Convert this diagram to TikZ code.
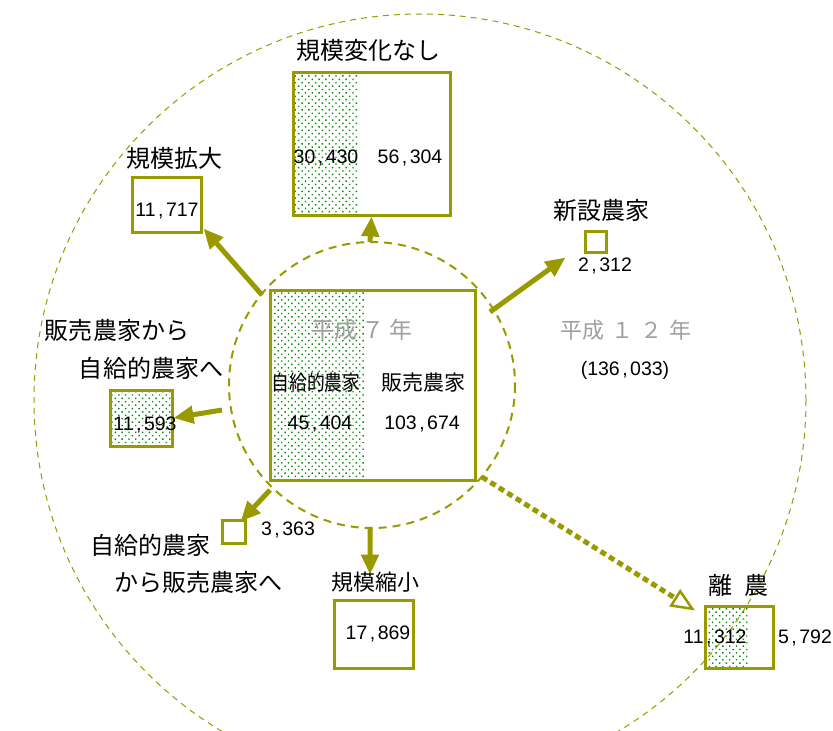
\documentclass[tikz,border=0pt]{standalone}
\usepackage{fontspec}
\setmainfont{Noto Sans CJK JP}
\newfontfamily\numfont{Liberation Sans}
\usetikzlibrary{arrows.meta,patterns.meta}
\definecolor{olive}{RGB}{153,153,0}
\definecolor{dotgreen}{RGB}{10,140,10}
\newcommand\nm[2]{{\numfont #1\kern2.5bp,\kern2.5bp #2}}
\tikzset{
  lab/.style={font=\fontsize{24bp}{26bp}\selectfont, inner sep=0pt},
  clab/.style={font=\fontsize{21bp}{23bp}\selectfont, inner sep=0pt},
  num/.style={font=\fontsize{19.5bp}{21bp}\selectfont, inner sep=0pt},
  fbox/.style={draw=olive, line width=3bp, inner sep=0pt},
  dotfill/.style={pattern={Dots[distance=4.8bp,angle=45,radius=1bp]}, pattern color=dotgreen},
  arr/.style={draw=olive, line width=5bp, -{Triangle[length=20bp,width=17bp]}},
  darr/.style={draw=olive, line width=5bp, dash pattern=on 6bp off 4bp, -{Triangle[open,length=24bp,width=20bp,fill=white,line width=2.5bp]}}
}
\begin{document}
\begin{tikzpicture}[x=1bp,y=-1bp]
\useasboundingbox (0,0) rectangle (833,731);
% circles
\draw[olive, line width=1bp, dash pattern=on 6bp off 5bp] (420,400) circle[radius=386];
\draw[olive, line width=2bp, dash pattern=on 8bp off 6bp] (372,385) circle[radius=143];
% central box
\fill[dotfill] (270,290) rectangle (365,480);
\node[fbox, minimum width=205bp, minimum height=190bp] (center) at (372.5,385) {};
\node[clab, color=gray!75, font=\fontsize{23bp}{25bp}\selectfont] (h7) at (362,330) {平成\hspace{5bp}７\hspace{5bp}年};
\node[clab] (jikyu) at (316,383) {\scalebox{0.85}[1]{自給的農家}};
\node[clab] (hanbai) at (423,383) {販売農家};
\node[num] (n1) at (320,424) {\nm{45}{404}};
\node[num] (n2) at (422,424) {\nm{103}{674}};
% top box
\fill[dotfill] (293,73) rectangle (358,215);
\node[fbox, minimum width=157bp, minimum height=142bp] (nochange) at (371.5,144) {};
\node[lab] (tnochange) at (368,50) {規模変化なし};
\node[num] (n3) at (326,158) {\nm{30}{430}};
\node[num] (n4) at (410,158) {\nm{56}{304}};
% expand
\node[fbox, minimum width=69bp, minimum height=55bp] (expand) at (166.5,204.5) {};
\node[lab] (texpand) at (174,158) {規模拡大};
\node[num] (n5) at (167,211) {\nm{11}{717}};
% new
\node[fbox, minimum width=21bp, minimum height=21bp] (new) at (595.5,241.5) {};
\node[lab] (tnew) at (601,210) {新設農家};
\node[num] (n6) at (605,266) {\nm{2}{312}};
% to self-sufficient
\fill[dotfill] (110,390) rectangle (172,446);
\node[fbox, minimum width=62bp, minimum height=56bp] (toself) at (141,418) {};
\node[lab] (ttoself1) at (117,330) {販売農家から};
\node[lab] (ttoself2) at (151,368) {自給的農家へ};
\node[num] (n7) at (145,425) {\nm{11}{593}};
% to sales
\node[fbox, minimum width=23bp, minimum height=23bp] (tosale) at (233.5,531.5) {};
\node[lab] (ttosale1) at (150,545) {自給的農家};
\node[lab] (ttosale2) at (198,582) {から販売農家へ};
\node[num] (n8) at (288,530) {\nm{3}{363}};
% shrink
\node[fbox, minimum width=79bp, minimum height=68bp] (shrink) at (373.5,634) {};
\node[lab, font=\fontsize{22bp}{24bp}\selectfont] (tshrink) at (375,582) {規模縮小};
\node[num] (n9) at (378,634) {\nm{17}{869}};
% quit
\fill[dotfill] (705,606) rectangle (748,668);
\node[fbox, minimum width=68bp, minimum height=62bp] (quit) at (739,637) {};
\node[lab] (tquit) at (738,585) {離\hspace{0.5em}農};
\node[num] (n10) at (715,638) {\nm{11}{312}};
\node[num] (n11) at (805,638) {\nm{5}{792}};
% year 12
\node[lab, color=gray!75, font=\fontsize{22bp}{24bp}\selectfont] (h12) at (626,330) {平成\hspace{7bp}１\hspace{7bp}２\hspace{7bp}年};
\node[num] (n12) at (625,370) {{\numfont (136\kern2.5bp,\kern2.5bp 033)}};
% arrows
\coordinate (sNo) at (370,242);
\coordinate (sEx) at (262,295);
\coordinate (sNew) at (490,312);
\coordinate (sSelf) at (222,410);
\coordinate (sSale) at (270,490);
\coordinate (sShr) at (370,528);
\coordinate (sQuit) at (482,477);
\draw[arr] (sNo) -- (nochange.south);
\draw[arr] (sEx) -- ([xshift=37bp,yshift=5bp]expand.south);
\draw[arr] (sNew) -- ([xshift=-30bp,yshift=-4bp]new.south);
\draw[arr] (sSelf) -- ([yshift=0bp]toself.east);
\draw[arr] (sSale) -- ([xshift=7bp,yshift=-3bp]tosale.north);
\draw[arr] (sShr) -- ([xshift=-5bp,yshift=-3bp]tshrink.north);
\draw[darr] (sQuit) -- ([xshift=-44bp,yshift=-6bp]quit.north);
\end{tikzpicture}
\end{document}
